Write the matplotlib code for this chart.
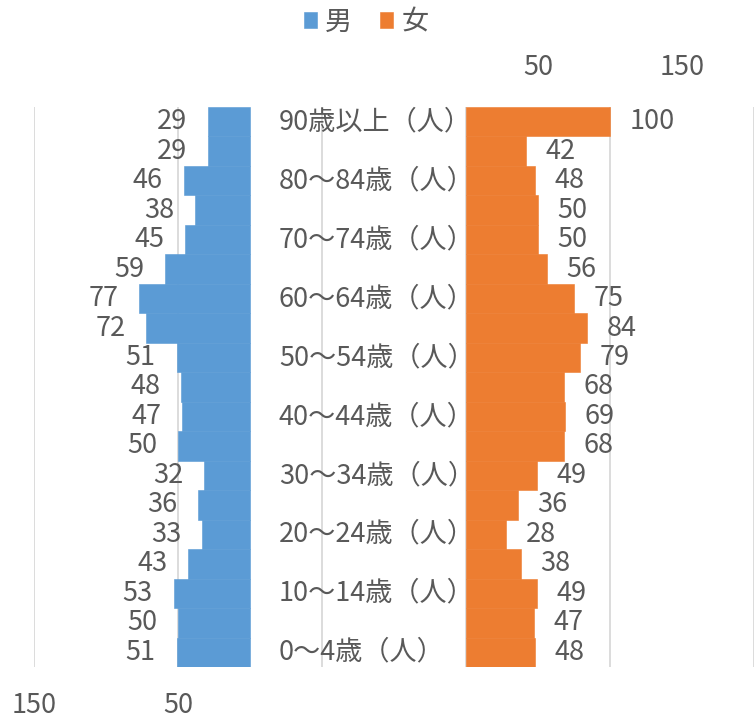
import matplotlib
matplotlib.use("Agg")
import matplotlib.pyplot as plt
from matplotlib.ticker import FuncFormatter

plt.rcParams['font.family'] = ['Noto Sans CJK JP', 'DejaVu Sans']

# 年齢階級（下から上へ）
age_groups = ['0～4歳（人）', '5～9歳（人）', '10～14歳（人）', '15～19歳（人）',
              '20～24歳（人）', '25～29歳（人）', '30～34歳（人）', '35～39歳（人）',
              '40～44歳（人）', '45～49歳（人）', '50～54歳（人）', '55～59歳（人）',
              '60～64歳（人）', '65～69歳（人）', '70～74歳（人）', '75～79歳（人）',
              '80～84歳（人）', '85～89歳（人）', '90歳以上（人）']
male = [51, 50, 53, 43, 33, 36, 32, 50, 47, 48, 51, 72, 77, 59, 45, 38, 46, 29, 29]
female = [48, 47, 49, 38, 28, 36, 49, 68, 69, 68, 79, 84, 75, 56, 50, 50, 48, 42, 100]

BLUE = '#5B9BD5'
ORANGE = '#ED7D31'
TEXT = '#595959'
GRID = '#D9D9D9'
FS = 19.5

fig = plt.figure(figsize=(7.56, 7.18), dpi=100)
ax = fig.add_axes([34 / 756, 51 / 718, 720 / 756, 560 / 718])
ax_f = ax.twiny()

y = list(range(len(age_groups)))

# 男性：反転した下側の軸
bars_m = ax.barh(y, male, height=1.0, color=BLUE, edgecolor=BLUE, linewidth=0.4, label='男')
ax.set_xlim(150, -350)
ax.set_ylim(-0.5, len(age_groups) - 0.5)
ax.set_xticks([150, 50, -50, -150, -250, -350])

# 女性：上側の軸
bars_f = ax_f.barh(y, female, height=1.0, color=ORANGE, edgecolor=ORANGE, linewidth=0.4, label='女')
ax_f.set_xlim(-300, 200)
ax_f.set_xticks([-250, -150, -50, 50, 150])

positive_only = FuncFormatter(lambda v, p: f"{v:.0f}" if v > 0 else "")
ax.xaxis.set_major_formatter(positive_only)
ax_f.xaxis.set_major_formatter(positive_only)

ax.set_axisbelow(True)
ax.grid(axis='x', color=GRID, linewidth=1.3)
ax.grid(axis='y', visible=False)
ax_f.grid(False)

ax.tick_params(axis='x', length=0, pad=18, labelsize=FS, labelcolor=TEXT)
ax_f.tick_params(axis='x', length=0, pad=19, labelsize=FS, labelcolor=TEXT)
ax.yaxis.set_visible(False)
ax_f.yaxis.set_visible(False)
for a in (ax, ax_f):
    for s in a.spines.values():
        s.set_visible(False)

ax.bar_label(bars_m, padding=15, fontsize=FS, color=TEXT)
ax_f.bar_label(bars_f, padding=14, fontsize=FS, color=TEXT)

# 年齢階級ラベル（1つおき）
for i in range(0, len(age_groups), 2):
    ax.text(0.340, i, age_groups[i], transform=ax.get_yaxis_transform(),
            ha='left', va='center', fontsize=FS, color=TEXT, zorder=5)

fig.legend(handles=[bars_m, bars_f], loc='center', bbox_to_anchor=(366 / 756, 1 - 22 / 718),
           ncol=2, frameon=False, fontsize=FS, labelcolor=TEXT,
           handlelength=0.5, handleheight=0.5, handletextpad=0.3, columnspacing=1.0)

fig.savefig('out.png', dpi=100)
